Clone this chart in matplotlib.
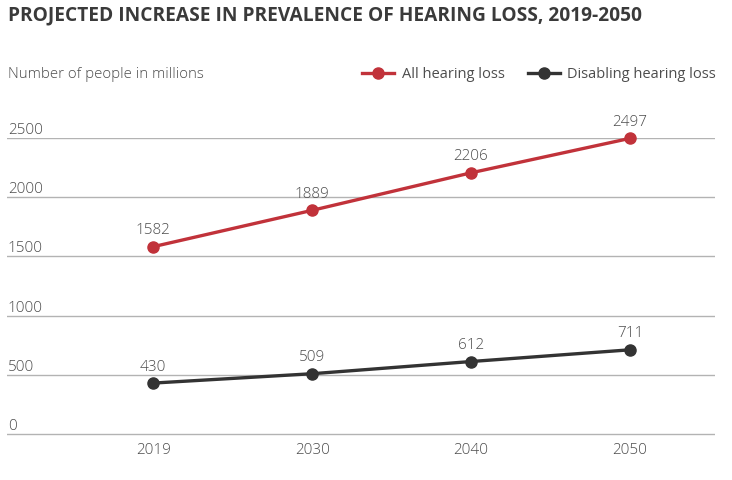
import matplotlib
matplotlib.use("Agg")
import matplotlib.pyplot as plt
from matplotlib.lines import Line2D

years = ["2019", "2030", "2040", "2050"]
all_loss = [1582, 1889, 2206, 2497]
disabling = [430, 509, 612, 711]
yticks = [0, 500, 1000, 1500, 2000, 2500]

RED = "#c1323a"
DARK = "#333333"
GRID = "#b3b3b3"
TXT = "#4d4d4d"

plt.rcParams['font.family'] = ['Open Sans', 'DejaVu Sans']

fig = plt.figure(figsize=(7.32, 4.8), dpi=100)
ax = fig.add_axes([7/732, (480-436)/480, (715-7)/732, (436-138)/480])

x = list(range(len(years)))
ax.plot(x, all_loss, color=RED, lw=2.4, marker='o', ms=8, clip_on=False, zorder=3)
ax.plot(x, disabling, color=DARK, lw=2.4, marker='o', ms=8, clip_on=False, zorder=3)

for xi, v in zip(x, all_loss):
    ax.annotate(str(v), (xi, v), xytext=(0, 6), textcoords='offset points',
                ha='center', va='bottom', fontsize=11, color=TXT, fontweight='light')
for xi, v in zip(x, disabling):
    ax.annotate(str(v), (xi, v), xytext=(0, 6), textcoords='offset points',
                ha='center', va='bottom', fontsize=11, color=TXT, fontweight='light')

ax.set_xlim(-0.92, 3.535)
ax.set_ylim(-17, 2500)
ax.set_yticks(yticks)
ax.set_yticklabels([])
ax.tick_params(axis='y', length=0)
ax.set_xticks(x)
ax.set_xticklabels(years, fontsize=11, color=TXT, fontweight='light')
ax.tick_params(axis='x', length=0, pad=5)
for s in ax.spines.values():
    s.set_visible(False)
ax.grid(axis='y', color=GRID, lw=1)
ax.set_axisbelow(True)

tr = ax.get_yaxis_transform()
for t in yticks:
    ax.text(0.001, t, str(t), transform=tr, ha='left', va='bottom',
            fontsize=11, color=TXT, fontweight='light')

fig.text(8/732, 1 - 15/480, "PROJECTED INCREASE IN PREVALENCE OF HEARING LOSS, 2019-2050",
         ha='left', va='center', fontsize=13.8, fontweight='bold', color="#3a3a3a")
fig.text(8/732, 1 - 74/480, "Number of people in millions", ha='left', va='center',
         fontsize=10.8, color=TXT, fontweight='light')

handles = [Line2D([], [], color=RED, lw=2.4, marker='o', ms=8),
           Line2D([], [], color=DARK, lw=2.4, marker='o', ms=8)]
fig.legend(handles, ["All hearing loss", "Disabling hearing loss"], ncol=2,
           loc='center right', bbox_to_anchor=(716/732, 1 - 75/480), frameon=False,
           fontsize=10.5, labelcolor=TXT, handlelength=2.2, handletextpad=0.5,
           columnspacing=1.6, borderaxespad=0, borderpad=0)

fig.savefig("out.png", dpi=100)
